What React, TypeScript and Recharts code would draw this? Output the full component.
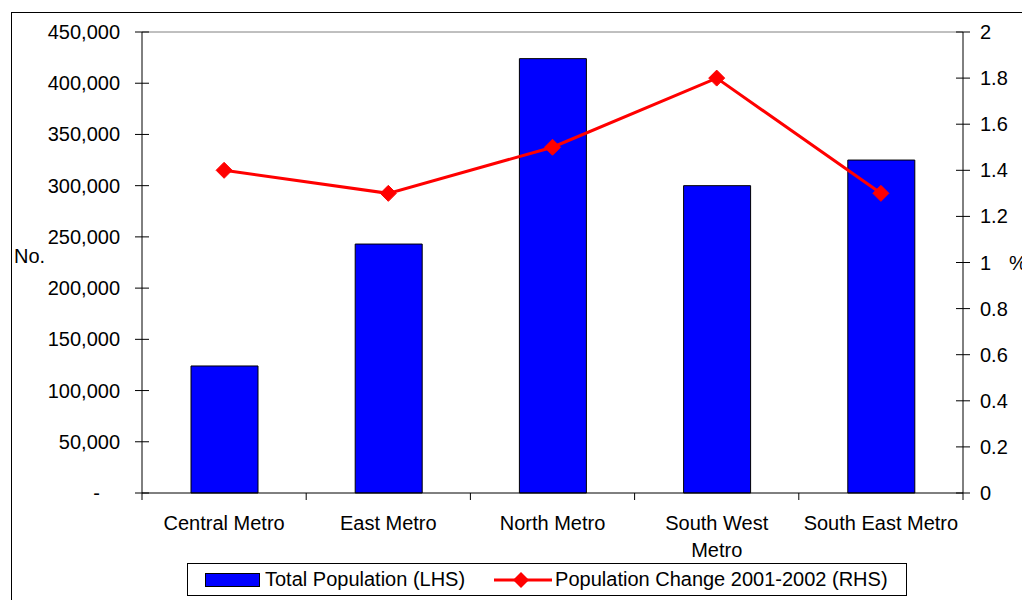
import React from "react";
import {
  ComposedChart,
  Bar,
  Line,
  XAxis,
  YAxis,
  Legend,
  ReferenceLine,
} from "recharts";

const regions = [
  "Central Metro",
  "East Metro",
  "North Metro",
  "South West Metro",
  "South East Metro",
];
// how Excel wrapped the category labels
const regionLabelLines = [
  ["Central Metro"],
  ["East Metro"],
  ["North Metro"],
  ["South West", "Metro"],
  ["South East Metro"],
];
const totalPopulation = [124000, 243000, 424000, 300000, 325000];
const populationChange = [1.4, 1.3, 1.5, 1.8, 1.3];
const leftTicks = [0, 50000, 100000, 150000, 200000, 250000, 300000, 350000, 400000, 450000];
const rightTicks = [0, 0.2, 0.4, 0.6, 0.8, 1, 1.2, 1.4, 1.6, 1.8, 2];

const data = regions.map((name, i) => ({
  name,
  total: totalPopulation[i],
  change: populationChange[i],
}));

const FONT = '"Liberation Sans", Arial, sans-serif';
const FS = 20;

const LeftTick = (props: any) => {
  const { x, y, payload } = props;
  const ax = x + 22;
  const v = payload.value;
  return (
    <g>
      <line x1={ax - 7} x2={ax + 7} y1={y} y2={y} stroke="#000" />
      <text
        x={v === 0 ? x - 20 : x}
        y={y}
        dy="0.35em"
        textAnchor="end"
        fontSize={FS}
        fontFamily={FONT}
        fill="#000"
      >
        {v === 0 ? "-" : v.toLocaleString("en-US")}
      </text>
    </g>
  );
};

const RightTick = (props: any) => {
  const { x, y, payload } = props;
  const ax = x - 17;
  return (
    <g>
      <line x1={ax - 7} x2={ax + 7} y1={y} y2={y} stroke="#000" />
      <text x={x} y={y} dy="0.35em" textAnchor="start" fontSize={FS} fontFamily={FONT} fill="#000">
        {String(payload.value)}
      </text>
    </g>
  );
};

const XTick = (props: any) => {
  const { x, y, payload, index, visibleTicksCount } = props;
  const ay = y - 23;
  const half = payload.offset || 82;
  const lines = regionLabelLines[index] || [payload.value];
  return (
    <g>
      <line x1={x - half} x2={x - half} y1={ay} y2={ay + 7} stroke="#000" />
      {index === visibleTicksCount - 1 && (
        <line x1={x + half} x2={x + half} y1={ay} y2={ay + 7} stroke="#000" />
      )}
      <text x={x} y={ay + 37} textAnchor="middle" fontSize={FS} fontFamily={FONT} fill="#000">
        {lines.map((l: string, i: number) => (
          <tspan key={i} x={x} dy={i ? 27 : 0}>
            {l}
          </tspan>
        ))}
      </text>
    </g>
  );
};

const Diamond = (props: any) => {
  const { cx, cy } = props;
  if (cx == null || cy == null) return null;
  const r = 8;
  return (
    <polygon
      points={`${cx},${cy - r} ${cx + r},${cy} ${cx},${cy + r} ${cx - r},${cy}`}
      fill="#FF0000"
      stroke="#FF0000"
    />
  );
};

const LegendBox = () => (
  <div
    style={{
      border: "1px solid #000",
      height: 31,
      display: "flex",
      alignItems: "center",
      paddingLeft: 17,
      fontFamily: FONT,
      fontSize: FS,
      color: "#000",
      background: "#fff",
      whiteSpace: "nowrap",
    }}
  >
    <span
      style={{
        display: "inline-block",
        width: 53,
        height: 12,
        background: "#0000FF",
        border: "1px solid #000",
        marginRight: 5,
      }}
    />
    <span>Total Population (LHS)</span>
    <svg width={58} height={20} style={{ marginLeft: 29, marginRight: 3 }}>
      <line x1={0} x2={58} y1={10} y2={10} stroke="#FF0000" strokeWidth={3} />
      <polygon points="27,2 35,10 27,18 19,10" fill="#FF0000" />
    </svg>
    <span>Population Change 2001-2002 (RHS)</span>
  </div>
);

export default function App() {
  return (
    <div
      style={{
        position: "relative",
        width: 1030,
        height: 608,
        margin: -8,
        overflow: "hidden",
        background: "#fff",
        fontFamily: FONT,
      }}
    >
      <ComposedChart
        width={1030}
        height={608}
        data={data}
        margin={{ top: 32, right: 0, left: 0, bottom: 22 }}
      >
        <XAxis
          dataKey="name"
          xAxisId="x"
          height={60}
          interval={0}
          tickSize={7}
          tickMargin={16}
          tickLine={false}
          axisLine={{ stroke: "#000" }}
          tick={<XTick />}
        />
        <YAxis
          yAxisId="left"
          orientation="left"
          width={142}
          domain={[0, 450000]}
          ticks={leftTicks}
          interval={0}
          tickSize={7}
          tickMargin={15}
          tickLine={false}
          axisLine={{ stroke: "#000" }}
          tick={<LeftTick />}
          label={{
            value: "No.",
            position: "insideLeft",
            offset: 14,
            dy: -7,
            fill: "#000",
            fontSize: FS,
            fontFamily: FONT,
          }}
        />
        <YAxis
          yAxisId="right"
          orientation="right"
          width={67}
          domain={[0, 2]}
          ticks={rightTicks}
          interval={0}
          tickSize={7}
          tickMargin={10}
          tickLine={false}
          axisLine={{ stroke: "#000" }}
          tick={<RightTick />}
          label={{
            value: "%",
            position: "insideLeft",
            offset: 46,
            fill: "#000",
            fontSize: FS,
            fontFamily: FONT,
          }}
        />
        <ReferenceLine xAxisId="x" yAxisId="left" y={450000} stroke="#808080" />
        <Bar
          xAxisId="x"
          yAxisId="left"
          dataKey="total"
          name="Total Population (LHS)"
          fill="#0000FF"
          stroke="#000"
          strokeWidth={1}
          barSize={67}
          isAnimationActive={false}
        />
        <Line
          xAxisId="x"
          yAxisId="right"
          type="linear"
          dataKey="change"
          name="Population Change 2001-2002 (RHS)"
          stroke="#FF0000"
          strokeWidth={3}
          dot={<Diamond />}
          activeDot={false}
          isAnimationActive={false}
        />
        <Legend
          content={<LegendBox />}
          wrapperStyle={{ left: 187, top: 563, width: 720 }}
        />
      </ComposedChart>
      <div
        style={{
          position: "absolute",
          left: 11,
          top: 12,
          width: 1100,
          height: 700,
          borderLeft: "1px solid #000",
          borderTop: "1px solid #000",
          pointerEvents: "none",
        }}
      />
    </div>
  );
}
